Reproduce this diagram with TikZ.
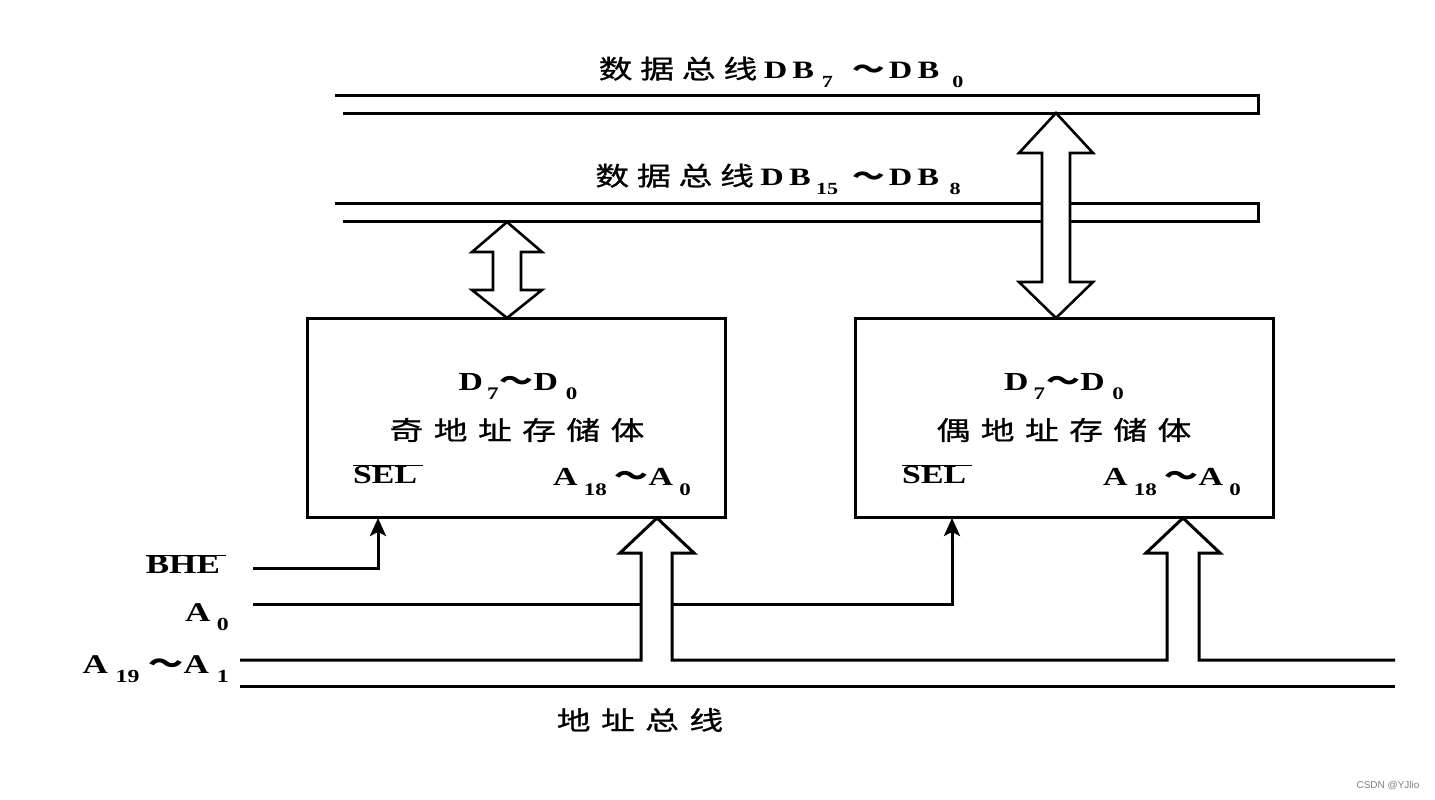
\documentclass[tikz,border=0pt]{standalone}
\usepackage{fontspec}
\setmainfont{Liberation Serif}
\newfontfamily\cjk{Noto Sans CJK SC}
\newfontfamily\cjkm[FakeBold=0.8]{Noto Sans CJK SC}
\newfontfamily\wmfont{Liberation Sans}
\usetikzlibrary{arrows.meta}
\newcommand\W[1]{\scalebox{1.3}[1]{#1}}
\newcommand\tl{{\cjk ～}}
\newcommand\dn[1]{\raisebox{-0.35em}{\scalebox{0.68}{#1}}}
\newcommand\ovl[1]{$\overline{\mbox{#1\,}}$}
\newcommand\zh[2]{{\cjkm\mdseries\fontsize{#1}{30}\selectfont #2}}
\tikzset{
  bus/.style={line width=3pt, line join=miter},
  wire/.style={line width=3pt},
  membox/.style={draw, line width=3pt, minimum width=418pt, minimum height=199pt, inner sep=0pt},
  dblarrow/.style={line width=2.6pt, fill=white, line join=miter},
  ttl/.style={inner sep=0pt, font=\fontsize{25}{28}\selectfont\bfseries},
  boxlbl/.style={inner sep=0pt, font=\fontsize{26}{30}\selectfont\bfseries},
  lbl/.style={inner sep=0pt, font=\fontsize{27}{30}\selectfont\bfseries},
  sig/.style={-{Stealth[length=18pt,width=16pt,inset=4pt]}, line width=3pt},
}
\begin{document}
\begin{tikzpicture}[x=1pt,y=-1pt]
\useasboundingbox (0,0) rectangle (1435,800);
\fill[white] (0,0) rectangle (1435,800);

% data buses
\draw[bus] (335,95) -- (1258,95) -- (1258,113) -- (343,113);
\draw[bus] (335,203) -- (1258,203) -- (1258,221) -- (343,221);
\node[ttl] (db70) at (781,72) {\W{\zh{26}{数\hspace{6pt}据\hspace{6pt}总\hspace{6pt}线}\hspace{5pt}D\hspace{4pt}B\hspace{6pt}\dn{7}\hspace{15pt}\tl\hspace{3pt}D\hspace{4pt}B\hspace{10pt}\dn{0}}};
\node[ttl] (db158) at (778,179) {\W{\zh{26}{数\hspace{6pt}据\hspace{6pt}总\hspace{6pt}线}\hspace{5pt}D\hspace{4pt}B\hspace{4pt}\dn{15}\hspace{11pt}\tl\hspace{3pt}D\hspace{4pt}B\hspace{8pt}\dn{8}}};

% memory boxes
\node[membox] (odd) at (516,417.5) {};
\node[membox] (even) at (1064,417.5) {};

\node[boxlbl] (oddd) at (518,387) {\W{D\hspace{3pt}\dn{7}\hspace{1pt}\tl D\hspace{6pt}\dn{0}}};
\node[boxlbl] (oddn) at (517,430) {\W{\zh{26}{奇\hspace{8pt}地\hspace{8pt}址\hspace{8pt}存\hspace{8pt}储\hspace{8pt}体}}};
\node[boxlbl, anchor=west] (oddsel) at (353,474) {\W{\ovl{SEL}}};
\node[boxlbl] (odda) at (622,482) {\W{A\hspace{5pt}\dn{18}\hspace{6pt}\tl A\hspace{5pt}\dn{0}}};

\node[boxlbl] (evend) at (1064,387) {\W{D\hspace{4pt}\dn{7}\hspace{1pt}\tl D\hspace{6pt}\dn{0}}};
\node[boxlbl] (evenn) at (1064,430) {\W{\zh{26}{偶\hspace{8pt}地\hspace{8pt}址\hspace{8pt}存\hspace{8pt}储\hspace{8pt}体}}};
\node[boxlbl, anchor=west] (evensel) at (902,474) {\W{\ovl{SEL}}};
\node[boxlbl] (evena) at (1172,482) {\W{A\hspace{5pt}\dn{18}\hspace{6pt}\tl A\hspace{5pt}\dn{0}}};

% double arrows between buses and boxes
\draw[dblarrow] (1056,113) -- (1093,153) -- (1070,153) -- (1070,282) -- (1093,282)
  -- (1056,318) -- (1019,282) -- (1042,282) -- (1042,153) -- (1019,153) -- cycle;
\draw[dblarrow] (507,222) -- (542,252) -- (521,252) -- (521,290) -- (542,290)
  -- (507,318) -- (472,290) -- (493,290) -- (493,252) -- (472,252) -- cycle;

% address bus with open arrows
\draw[wire, line join=miter] (240,660) -- (641,660) -- (641,553) -- (620,553) -- (657,518) -- (694,553) -- (672,553) -- (672,660)
  -- (1167,660) -- (1167,553) -- (1146,553) -- (1183,518) -- (1220,553) -- (1199,553) -- (1199,660) -- (1395,660);
\draw[wire] (240,686) -- (1395,686);

% control signals
\coordinate (bhe0) at (253,568);
\coordinate (oddselin) at (378,518);
\draw[sig] (bhe0) -| (oddselin);
\coordinate (a00) at (253,604);
\coordinate (a0gap1) at (641,604);
\coordinate (a0gap2) at (672,604);
\coordinate (evenselin) at (952,518);
\draw[wire] (a00) -- (a0gap1);
\draw[sig] (a0gap2) -| (evenselin);

% signal labels
\node[lbl, anchor=east] (bhe) at (226,564) {\W{\ovl{BHE}}};
\node[lbl, anchor=east] (a0) at (229,617) {\W{A\hspace{5pt}\dn{0}}};
\node[lbl, anchor=east] (a191) at (229,669) {\W{A\hspace{6pt}\dn{19}\hspace{7pt}\tl A\hspace{6pt}\dn{1}}};
\node[lbl] (abus) at (640,720) {\W{\zh{26}{地\hspace{8pt}址\hspace{8pt}总\hspace{8pt}线}}};

\node[inner sep=0pt, text=gray, font=\wmfont\fontsize{10}{12}\selectfont] (wm) at (1388,786) {CSDN @YJlio};
\end{tikzpicture}
\end{document}
